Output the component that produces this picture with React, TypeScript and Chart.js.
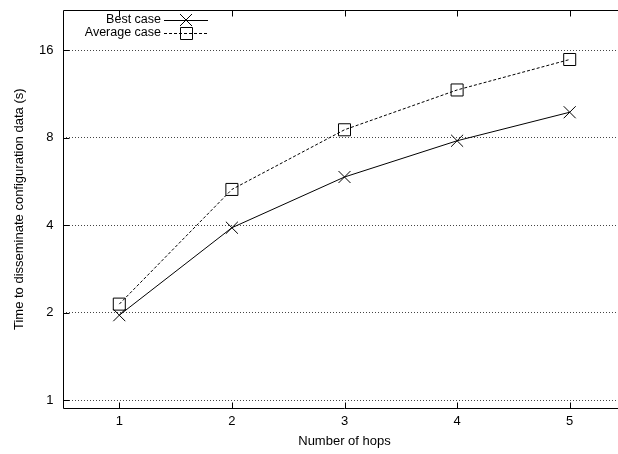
import React, { useEffect, useRef } from 'react';
import { Chart, registerables } from 'chart.js';

Chart.register(...registerables);

const FONT = '"Liberation Sans", Arial, Helvetica, sans-serif';

const hops = [1, 2, 3, 4, 5];
const bestCase = [1.96, 3.92, 5.86, 7.81, 9.79];
const averageCase = [2.14, 5.31, 8.52, 11.68, 14.87];
const xTickValues = [1, 2, 3, 4, 5];
const yTickValues = [1, 2, 4, 8, 16];
const seriesLabels = ['Best case', 'Average case'];

function zeroPadding(s: any) {
  s.paddingTop = 0;
  s.paddingBottom = 0;
  s.paddingLeft = 0;
  s.paddingRight = 0;
}

export default function App() {
  const ref = useRef<HTMLCanvasElement>(null);

  useEffect(() => {
    if (!ref.current) return;

    const framePlugin = {
      id: 'frame',
      afterDraw(chart: any) {
        const { ctx, chartArea } = chart;
        const xs = chart.scales.x;
        const ys = chart.scales.y;
        const L = Math.round(chartArea.left) + 0.5;
        const R = Math.round(chartArea.right) - 0.5;
        const T = Math.round(chartArea.top) + 0.5;
        const B = Math.round(chartArea.bottom) - 0.5;
        ctx.save();
        ctx.strokeStyle = '#000';
        ctx.lineWidth = 1;
        ctx.setLineDash([]);
        ctx.beginPath();
        ctx.rect(L, T, R - L, B - T);
        ctx.stroke();
        const tl = 6;
        ctx.beginPath();
        xTickValues.forEach((v) => {
          const px = Math.round(xs.getPixelForValue(v)) + 0.5;
          ctx.moveTo(px, B);
          ctx.lineTo(px, B - tl);
          ctx.moveTo(px, T);
          ctx.lineTo(px, T + tl);
        });
        yTickValues.forEach((v) => {
          const py = Math.round(ys.getPixelForValue(v)) + 0.5;
          ctx.moveTo(L, py);
          ctx.lineTo(L + tl, py);
          ctx.moveTo(R, py);
          ctx.lineTo(R - tl, py);
        });
        ctx.stroke();
        ctx.restore();
      },
    };

    const legendPlugin = {
      id: 'gnuLegend',
      afterDraw(chart: any) {
        const { ctx } = chart;
        const textRight = 161;
        const lineStart = 164;
        const lineEnd = 208;
        const markX = 186;
        const rows = [20, 33];
        ctx.save();
        chart.data.datasets.forEach((ds: any, i: number) => {
          const y = rows[i];
          ctx.fillStyle = '#000';
          ctx.font = `12.5px ${FONT}`;
          ctx.textAlign = 'right';
          ctx.textBaseline = 'middle';
          ctx.fillText(ds.label, textRight, y);
          ctx.strokeStyle = '#000';
          ctx.lineWidth = 1;
          ctx.setLineDash(ds.borderDash || []);
          ctx.beginPath();
          ctx.moveTo(lineStart, y + 0.5);
          ctx.lineTo(lineEnd, y + 0.5);
          ctx.stroke();
          ctx.setLineDash([]);
          ctx.beginPath();
          if (ds.pointStyle === 'crossRot') {
            const h = 6;
            ctx.moveTo(markX - h, y - h);
            ctx.lineTo(markX + h, y + h);
            ctx.moveTo(markX + h, y - h);
            ctx.lineTo(markX - h, y + h);
          } else {
            const h = 6;
            ctx.rect(markX - h + 0.5, y - h + 0.5, 2 * h, 2 * h);
          }
          ctx.stroke();
        });
        ctx.restore();
      },
    };

    const chart = new Chart(ref.current, {
      type: 'line',
      data: {
        datasets: [
          {
            label: seriesLabels[0],
            data: hops.map((h, i) => ({ x: h, y: bestCase[i] })),
            borderColor: '#000',
            borderWidth: 1,
            tension: 0,
            fill: false,
            pointStyle: 'crossRot',
            pointRadius: 8.5,
            pointBorderWidth: 1,
            pointBorderColor: '#000',
            pointBackgroundColor: 'rgba(0,0,0,0)',
          },
          {
            label: seriesLabels[1],
            data: hops.map((h, i) => ({ x: h, y: averageCase[i] })),
            borderColor: '#000',
            borderWidth: 1,
            borderDash: [3, 2],
            tension: 0,
            fill: false,
            pointStyle: 'rect',
            pointRadius: 8.5,
            pointBorderWidth: 1,
            pointBorderColor: '#000',
            pointBackgroundColor: 'rgba(0,0,0,0)',
          },
        ] as any,
      },
      options: {
        responsive: false,
        maintainAspectRatio: false,
        devicePixelRatio: 1,
        animation: false,
        layout: { padding: { left: 0, top: 4.7, right: 14, bottom: 0 } },
        plugins: {
          legend: { display: false },
          tooltip: { enabled: false },
        },
        scales: {
          x: {
            type: 'linear',
            min: 0.5,
            max: 5.5,
            bounds: 'data',
            afterBuildTicks: (s: any) => {
              s.ticks = xTickValues.map((v) => ({ value: v }));
            },
            afterFit: (s: any) => {
              s.height = 45;
              zeroPadding(s);
            },
            grid: { display: false, drawTicks: false },
            border: { display: false },
            ticks: {
              color: '#000',
              font: { family: FONT, size: 13 },
              padding: 5,
              maxRotation: 0,
              callback: (v: any) => String(v),
            },
            title: {
              display: true,
              text: 'Number of hops',
              color: '#000',
              font: { family: FONT, size: 13 },
              padding: { top: 0, bottom: 5 },
            },
          },
          y: {
            type: 'logarithmic',
            min: 0.932,
            max: 22.1,
            bounds: 'data',
            afterBuildTicks: (s: any) => {
              s.ticks = yTickValues.map((v) => ({ value: v }));
            },
            afterFit: (s: any) => {
              s.width = 63;
              zeroPadding(s);
            },
            grid: {
              display: true,
              drawTicks: false,
              color: '#444',
              lineWidth: 1,
            },
            border: { display: false, dash: [1, 2] },
            ticks: {
              color: '#000',
              font: { family: FONT, size: 13 },
              padding: 9.5,
              callback: (v: any) => String(v),
            },
            title: {
              display: true,
              text: 'Time to disseminate configuration data (s)',
              color: '#000',
              font: { family: FONT, size: 13 },
              padding: { top: 12, bottom: 0 },
            },
          },
        },
      } as any,
      plugins: [framePlugin, legendPlugin],
    });

    return () => chart.destroy();
  }, []);

  return (
    <div
      style={{
        position: 'absolute',
        left: 0,
        top: 0,
        width: 618,
        height: 454,
        overflow: 'hidden',
        background: '#fff',
      }}
    >
      <canvas ref={ref} width={640} height={454} style={{ display: 'block', width: 640, height: 454 }} />
    </div>
  );
}
